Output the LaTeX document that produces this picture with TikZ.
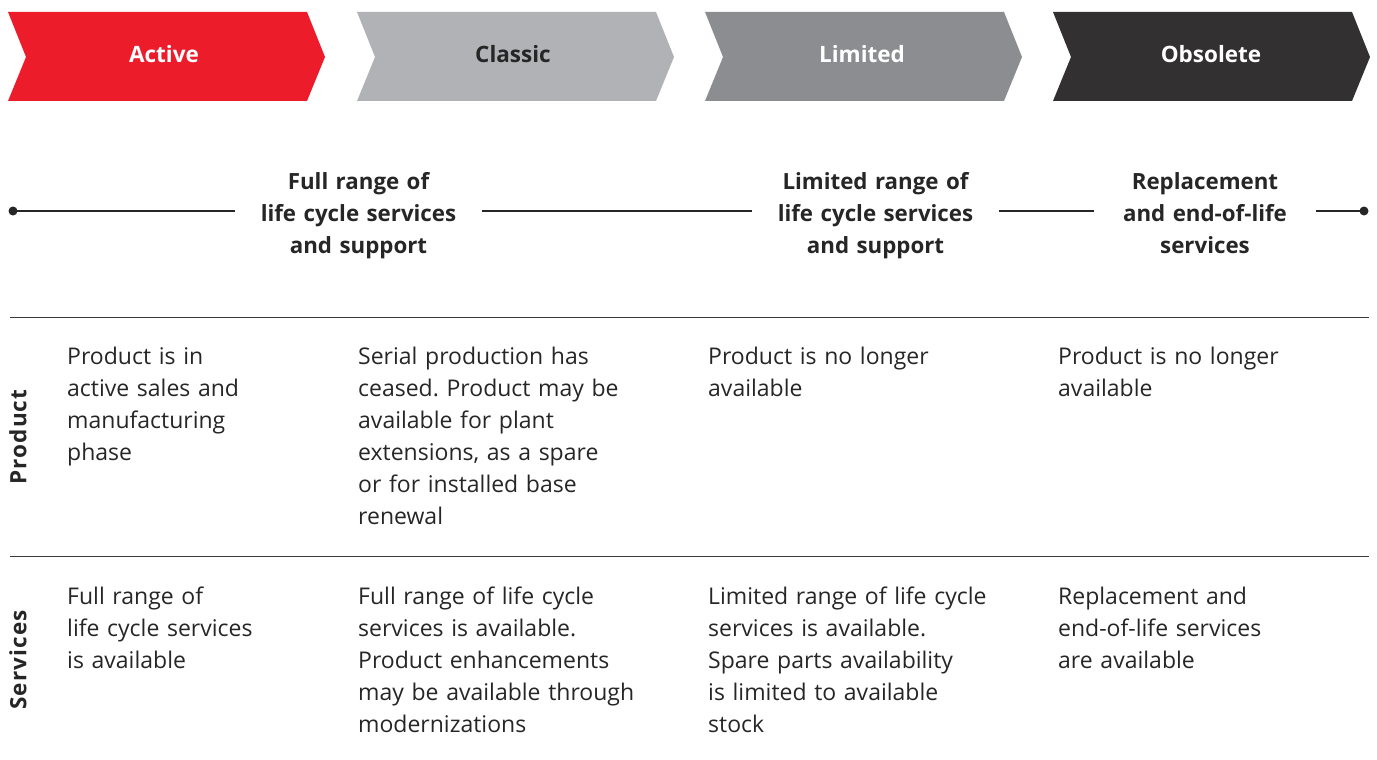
\documentclass[tikz,border=0pt]{standalone}
\usepackage{fontspec}
\setmainfont{Open Sans}
\frenchspacing
\definecolor{abbred}{HTML}{ED1C2B}
\definecolor{clgrey}{HTML}{B1B2B5}
\definecolor{lmgrey}{HTML}{8C8D91}
\definecolor{obgrey}{HTML}{323031}
\definecolor{txt}{HTML}{262626}
\definecolor{rule}{HTML}{3A3A3A}
\tikzset{
  chevtxt/.style={font=\fontsize{22.5}{24}\selectfont\bfseries, inner sep=0pt, anchor=base},
  hdr/.style={font=\fontsize{22.3}{32}\selectfont\bfseries, text=txt, align=center, inner sep=0pt},
  body/.style={font=\fontsize{23}{32}\selectfont, text=txt, align=left, inner sep=0pt, anchor=base west, text width=330pt},
  rowlbl/.style={font=\fontsize{22.5}{24}\selectfont\bfseries\addfontfeature{LetterSpace=5}, text=txt, rotate=90, inner sep=0pt},
  tl/.style={line width=2.6pt, draw=txt},
  hr/.style={line width=1pt, draw=rule},
}
\newcommand{\chevron}[2]{%
  \fill[#2] (#1,12) -- ++(299,0) -- ++(18,45) -- ++(-18,44) -- ++(-299,0) -- ++(18,-44) -- cycle;}
\begin{document}
\begin{tikzpicture}[x=1pt,y=-1pt]
\useasboundingbox (0,0) rectangle (1377,760);
% chevrons
\chevron{8}{abbred}
\chevron{357}{clgrey}
\chevron{705}{lmgrey}
\chevron{1053}{obgrey}
\node[chevtxt, text=white] (active) at (164,63) {Active};
\node[chevtxt, text=txt] (classic) at (513,63) {Classic};
\node[chevtxt, text=white] (limited) at (862,63) {Limited};
\node[chevtxt, text=white] (obsolete) at (1211,63) {Obsolete};
% timeline
\coordinate (l0) at (13,211);
\coordinate (l7) at (1364,211);
\node[hdr, text width=247pt] (h1) at (358.5,216) {Full range of\\life cycle services\\and support};
\node[hdr, text width=247pt] (h2) at (875.5,216) {Limited range of\\life cycle services\\and support};
\node[hdr, text width=222pt] (h3) at (1205,213) {Replacement\\and end-of-life\\services};
\fill[txt] (l0) circle (4.5);
\fill[txt] (l7) circle (4.5);
\draw[tl] (l0) -- (h1.west |- l0);
\draw[tl] (h1.east |- l0) -- (h2.west |- l0);
\draw[tl] (h2.east |- l0) -- (h3.west |- l0);
\draw[tl] (h3.east |- l0) -- (l7);
% rules
\coordinate (r1a) at (10,317);
\coordinate (r1b) at (1369,317);
\coordinate (r2a) at (10,556);
\coordinate (r2b) at (1369,556);
\draw[hr] (r1a) -- (r1b);
\draw[hr] (r2a) -- (r2b);
% row labels
\node[rowlbl] (plbl) at (18,437) {Product};
\node[rowlbl] (slbl) at (18,660) {Services};
% product row
\node[body] (p1) at (67,364) {Product is in\\active sales and\\manufacturing\\phase};
\node[body] (p2) at (358,364) {Serial production has\\ceased. Product may be\\available for plant\\extensions, as a spare\\or for installed base\\renewal};
\node[body] (p3) at (708,364) {Product is no longer\\available};
\node[body] (p4) at (1058,364) {Product is no longer\\available};
% services row
\node[body] (s1) at (67,604) {Full range of\\life cycle services\\is available};
\node[body] (s2) at (358,604) {Full range of life cycle\\services is available.\\Product enhancements\\may be available through\\modernizations};
\node[body] (s3) at (708,604) {Limited range of life cycle\\services is available.\\Spare parts availability\\is limited to available\\stock};
\node[body] (s4) at (1058,604) {Replacement and\\end-of-life services\\are available};
\end{tikzpicture}
\end{document}
